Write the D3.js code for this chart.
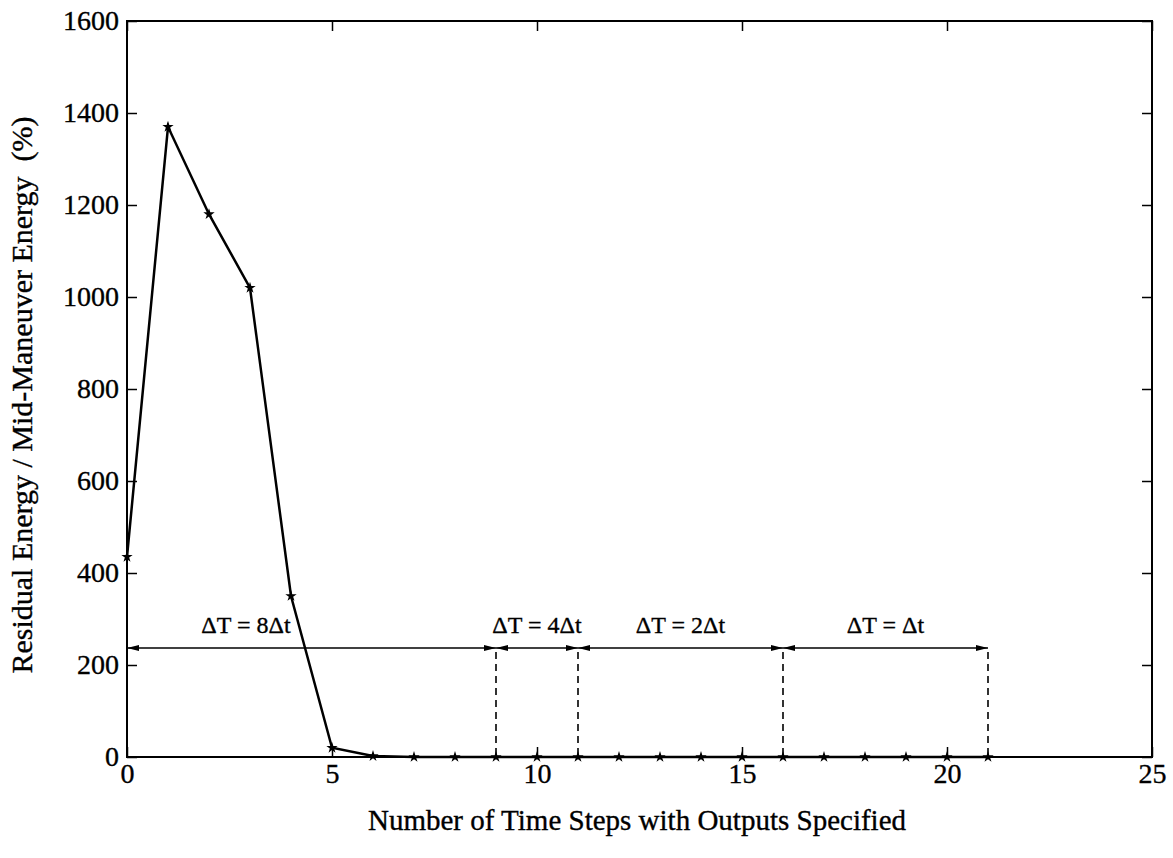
<!DOCTYPE html>
<html>
<head>
<meta charset="utf-8">
<script src="https://cdn.jsdelivr.net/npm/d3@7"></script>
<style>
  body { margin: 0; background: #fff; }
  svg { display: block; }
  text { font-family: "Liberation Serif", "DejaVu Serif", serif; fill: #000; stroke: #000; stroke-width: 0.35px; }
</style>
</head>
<body>
<svg id="chart" width="1173" height="858"></svg>
<script>
// ---- data ----
const steps = [0,1,2,3,4,5,6,7,8,9,10,11,12,13,14,15,16,17,18,19,20,21];
const energy = [435,1370,1180,1020,350,20,2,0,0,0,0,0,0,0,0,0,0,0,0,0,0,0];
const xTicks = [0,5,10,15,20,25];
const yTicks = [0,200,400,600,800,1000,1200,1400,1600];
const intervalStarts = [0,9,11,16];
const intervalEnds = [9,11,16,21];
const intervalLabels = ["ΔT = 8Δt","ΔT = 4Δt","ΔT = 2Δt","ΔT = Δt"];
const intervalLabelX = [2.9,10,13.5,18.5];
const arrowLevel = 237;
const xLabel = "Number of Time Steps with Outputs Specified";
const yLabel = "Residual Energy / Mid-Maneuver Energy\u00a0\u00a0(%)";

// ---- layout ----
const svg = d3.select("#chart");
const m = {left:127, top:21, right:21, bottom:101};
const W = 1173 - m.left - m.right, H = 858 - m.top - m.bottom;
const g = svg.append("g").attr("transform", `translate(${m.left},${m.top})`);

const x = d3.scaleLinear().domain([0,25]).range([0,W]);
const y = d3.scaleLinear().domain([0,1600]).range([H,0]);

// arrow marker
svg.append("defs").append("marker")
  .attr("id","arr").attr("viewBox","0 0 12 8").attr("refX",12).attr("refY",4)
  .attr("markerWidth",12).attr("markerHeight",8).attr("markerUnits","userSpaceOnUse")
  .attr("orient","auto-start-reverse")
  .append("path").attr("d","M0,1 L12,4 L0,7 Z").attr("fill","#000");

// axes with inward ticks
const tickLen = 10;
const fmt = d3.format("d");
const axB = g.append("g").attr("transform",`translate(0,${H})`)
  .call(d3.axisBottom(x).tickValues(xTicks).tickFormat(fmt).tickSizeInner(-tickLen).tickSizeOuter(0).tickPadding(4));
const axT = g.append("g")
  .call(d3.axisTop(x).tickValues(xTicks).tickSizeInner(-tickLen).tickSizeOuter(0).tickFormat(""));
const axL = g.append("g")
  .call(d3.axisLeft(y).tickValues(yTicks).tickFormat(fmt).tickSizeInner(-tickLen).tickSizeOuter(0).tickPadding(4));
const axR = g.append("g").attr("transform",`translate(${W},0)`)
  .call(d3.axisRight(y).tickValues(yTicks).tickSizeInner(-tickLen).tickSizeOuter(0).tickFormat(""));
[axB,axT,axL,axR].forEach(a => {
  a.select(".domain").remove();
  a.selectAll(".tick line").attr("stroke","#000").attr("stroke-width",1.5);
  a.selectAll("text").attr("font-size",28).attr("fill","#000")
    .style("font-family","'Liberation Serif', serif");
});
axB.selectAll("text").attr("dy","0.8em");
axL.selectAll("text").attr("dx","-4");

// frame
g.append("rect").attr("x",0).attr("y",0).attr("width",W).attr("height",H)
  .attr("fill","none").attr("stroke","#000").attr("stroke-width",2);

// dashed verticals
g.selectAll(".vd").data(intervalEnds).enter().append("line")
  .attr("x1",d=>x(d)).attr("x2",d=>x(d)).attr("y1",y(arrowLevel)+4).attr("y2",y(0))
  .attr("stroke","#000").attr("stroke-width",1.6).attr("stroke-dasharray","7,5");

// arrows
g.selectAll(".arr").data(intervalStarts).enter().append("line")
  .attr("x1",(d)=>x(d)).attr("x2",(d,i)=>x(intervalEnds[i]))
  .attr("y1",y(arrowLevel)).attr("y2",y(arrowLevel))
  .attr("stroke","#000").attr("stroke-width",1.6)
  .attr("marker-start","url(#arr)").attr("marker-end","url(#arr)");

// interval labels
g.selectAll(".lbl").data(intervalLabels).enter().append("text")
  .attr("x",(d,i)=>x(intervalLabelX[i])).attr("y",y(arrowLevel)-15)
  .attr("text-anchor","middle").attr("font-size",24).text(d=>d);

// data line
const pts = steps.map((s,i)=>[s,energy[i]]);
g.append("path").datum(pts)
  .attr("d", d3.line().x(d=>x(d[0])).y(d=>y(d[1])))
  .attr("fill","none").attr("stroke","#000").attr("stroke-width",2.5);
g.selectAll(".pt").data(pts).enter().append("path")
  .attr("transform",d=>`translate(${x(d[0])},${y(d[1])})`)
  .attr("d", d3.symbol(d3.symbolStar, 40))
  .attr("fill","#000");

// axis labels
svg.append("text").attr("x", 637).attr("y", 830)
  .attr("text-anchor","middle").attr("font-size",29).text(xLabel);
svg.append("text").attr("transform",`translate(32,395) rotate(-90)`)
  .attr("text-anchor","middle").attr("font-size",30).text(yLabel);
</script>
</body>
</html>
